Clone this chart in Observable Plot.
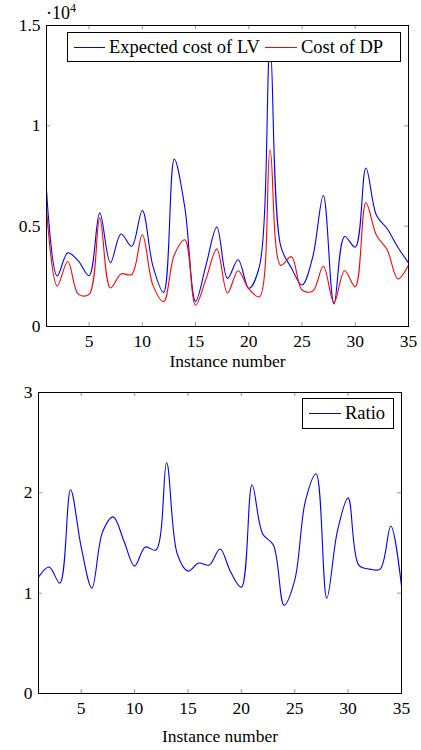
<!DOCTYPE html>
<html><head><meta charset="utf-8">
<script src="https://cdn.jsdelivr.net/npm/d3@7"></script>
<script src="https://cdn.jsdelivr.net/npm/@observablehq/plot@0.6"></script>
<style>
body{margin:0;background:#fff;font-family:"Liberation Serif";}
#wrap{position:relative;width:421px;height:750px;overflow:hidden;}
.panel{position:absolute;left:0;}
.legend{position:absolute;border:1px solid #000;background:#fff;display:flex;align-items:center;font-size:18.5px;color:#000;box-sizing:border-box;}
.legend .sw{display:inline-block;height:0;border-top:1.2px solid;margin-right:4px;}
.legend .it{display:flex;align-items:center;white-space:nowrap;}
.exp{position:absolute;font-size:18px;}
</style>
</head><body>
<div id="wrap">
  <div id="p1" class="panel" style="top:0"></div>
  <div id="p2" class="panel" style="top:380px"></div>
  <div class="exp" style="left:46px;top:1px">·10<sup style="font-size:12px;vertical-align:7px">4</sup></div>
  <div class="legend" style="left:67px;top:32px;width:334px;height:30px;padding-left:6px">
    <span class="it"><span class="sw" style="width:31px;border-color:#0000ff"></span>Expected cost of LV</span>
    <span class="it" style="margin-left:5px"><span class="sw" style="width:32px;border-color:#ff0000"></span>Cost of DP</span>
  </div>
  <div class="legend" style="left:302px;top:398px;width:92px;height:31px;padding-left:6px">
    <span class="it"><span class="sw" style="width:32px;border-color:#0000ff"></span>Ratio</span>
  </div>
</div>
<script>
const instances = [1,2,3,4,5,6,7,8,9,10,11,12,13,14,15,16,17,18,19,20,21,22,23,24,25,26,27,28,29,30,31,32,33,34,35];
const costLV = [6800,2520,3670,3260,2530,5660,3180,4610,4000,5780,3000,1700,8350,5900,1250,3100,4950,2400,3330,1900,3000,14000,4000,2920,2070,3450,6530,1120,4480,3950,7900,5530,4870,3950,3170];
const costDP = [5870,2020,3240,1600,1600,5400,1920,2620,2590,4570,2050,1240,3560,4320,1060,2400,3870,1670,2780,1870,1480,8800,3050,3480,1820,1760,3000,1190,2780,1980,6170,4530,3830,2370,3070];
const ratio = [1.16,1.26,1.10,2.03,1.46,1.05,1.61,1.76,1.52,1.27,1.46,1.43,2.30,1.39,1.22,1.30,1.28,1.44,1.21,1.06,2.08,1.59,1.48,0.88,1.13,1.92,2.19,0.95,1.62,1.95,1.28,1.24,1.24,1.67,1.07];
const xTicks = [5,10,15,20,25,30,35];
const yTicksTop = [0,5000,10000,15000];
const yTicksBottom = [0,1,2,3];

const rowsTop = instances.flatMap((x,i)=>[
  {x, y: costLV[i], s: "Expected cost of LV"},
  {x, y: costDP[i], s: "Cost of DP"}
]);
const rowsBottom = instances.map((x,i)=>({x, y: ratio[i], s: "Ratio"}));

const font = {fontFamily:"Liberation Serif", fontSize:"17.5px", background:"#fff", color:"#000", overflow:"visible"};
const tickCol = "#777";

function panel({data, yDomain, yTicks, yFmt, height, mt, mb, ml, mr, series, labelOffset}) {
  const ih = height - mt - mb, iw = 421 - ml - mr;
  return Plot.plot({
    width: 421, height, marginTop: mt, marginBottom: mb, marginLeft: ml, marginRight: mr,
    style: font,
    x: {domain: [1,35]},
    y: {domain: yDomain},
    marks: [
      Plot.gridX({ticks: xTicks, stroke: tickCol, strokeOpacity: 1, strokeWidth: 0.8, insetTop: ih - 4}),
      Plot.gridX({ticks: xTicks, stroke: tickCol, strokeOpacity: 1, strokeWidth: 0.8, insetBottom: ih - 4}),
      Plot.gridY({ticks: yTicks, stroke: tickCol, strokeOpacity: 1, strokeWidth: 0.8, insetRight: iw - 4}),
      Plot.gridY({ticks: yTicks, stroke: tickCol, strokeOpacity: 1, strokeWidth: 0.8, insetLeft: iw - 4}),
      Plot.axisX({ticks: xTicks, tickSize: 0, tickPadding: 8, label: "Instance number", labelAnchor: "center", labelArrow: "none", labelOffset, fontSize: 17.5}),
      Plot.axisY({ticks: yTicks, tickSize: 0, tickPadding: 6, tickFormat: yFmt, label: null, fontSize: 17.5}),
      Plot.line(data, {x: "x", y: "y", z: "s", stroke: series, strokeWidth: 1.1, curve: "catmull-rom"}),
      Plot.frame({stroke: "#000", strokeWidth: 1})
    ]
  });
}

document.getElementById("p1").append(panel({
  data: rowsTop, yDomain: [0,15000], yTicks: yTicksTop, yFmt: d => d3.format("~g")(d/10000),
  height: 380, mt: 25, mb: 54, ml: 46, mr: 13, series: d => d.s === "Cost of DP" ? "#ff0000" : "#0000ff", labelOffset: 40
}));
document.getElementById("p2").append(panel({
  data: rowsBottom, yDomain: [0,3], yTicks: yTicksBottom, yFmt: d => String(d),
  height: 370, mt: 12, mb: 57, ml: 38, mr: 20, series: () => "#0000ff", labelOffset: 48
}));
</script>
</body></html>
